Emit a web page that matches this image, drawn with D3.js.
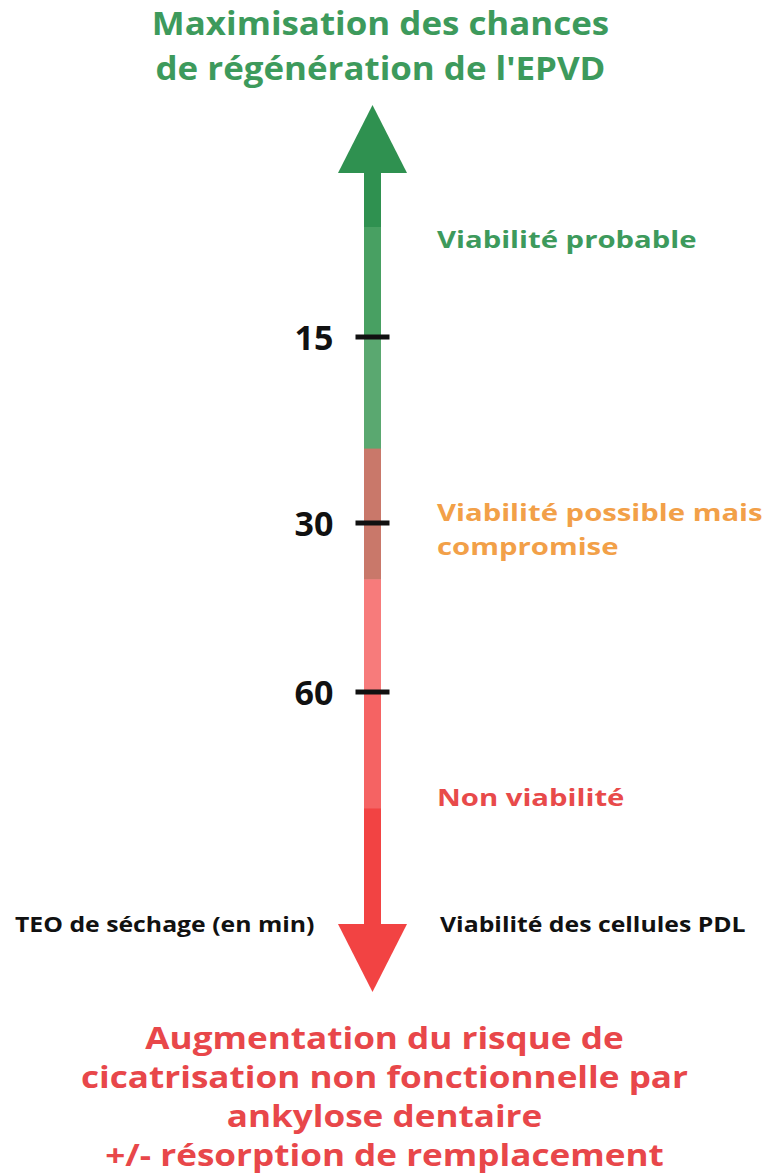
<!DOCTYPE html>
<html>
<head>
<meta charset="utf-8">
<script src="https://cdn.jsdelivr.net/npm/d3@7"></script>
<style>
  html, body { margin: 0; padding: 0; background: #fff; }
  svg { display: block; }
  text { font-family: "Open Sans", "DejaVu Sans", sans-serif; font-weight: 700; }
</style>
</head>
<body>
<div id="chart"></div>
<script>
// drying time ticks (minutes)
const tickValues = [15, 30, 60];
const tickLabels = ["15", "30", "60"];

// colour bands along the arrow, in minutes
const bandStops = [0, 5, 15, 24, 40, 60, 80, 100];
const bandColors = ["#2f9150", "#48a062", "#5aa870", "#c9786a", "#f77b7b", "#f56363", "#f24343"];

// viability zones on the right
const zoneLabels = [["Viabilité probable"], ["Viabilité possible mais", "compromise"], ["Non viabilité"]];
const zoneAnchors = [6, 31, 78];
const zoneColors = ["#3d9a5c", "#f2a048", "#e84a4a"];

const titleLines = ["Maximisation des chances", "de régénération de l'EPVD"];
const footerLines = ["Augmentation du risque de", "cicatrisation non fonctionnelle par", "ankylose dentaire", "+/- résorption de remplacement"];
const axisLeftName = "TEO de séchage (en min)";
const axisRightName = "Viabilité des cellules PDL";

const width = 769, height = 1175;
const cx = 372.5;          // arrow centre
const shaftW = 17;
const headW = 69, headL = 67;

// widen text a bit, the original uses a broader typeface
function stretch(sel, k) {
    sel.each(function () {
        const w = this.getComputedTextLength();
        d3.select(this).attr("textLength", w * k).attr("lengthAdjust", "spacingAndGlyphs");
    });
}

const svg = d3.select("#chart").append("svg")
    .attr("width", width)
    .attr("height", height);

// piecewise time scale, top of shaft = 0 min
const y = d3.scaleLinear()
    .domain([0, 15, 30, 60, 100])
    .range([172, 337, 523, 692, 925]);

// title
svg.append("g").selectAll("text")
    .data(titleLines)
    .enter().append("text")
    .attr("x", width / 2 - 4)
    .attr("y", (d, i) => 22 + i * 45)
    .attr("text-anchor", "middle")
    .attr("dominant-baseline", "central")
    .attr("fill", "#3d9a5c")
    .style("font-size", "32px")
    .text(d => d)
    .call(stretch, 1.09);

// shaft bands
const bands = d3.range(bandColors.length).map(i => ({ a: bandStops[i], b: bandStops[i + 1], c: bandColors[i] }));
svg.append("g").selectAll("rect")
    .data(bands)
    .enter().append("rect")
    .attr("x", cx - shaftW / 2)
    .attr("width", shaftW)
    .attr("y", d => y(d.a))
    .attr("height", d => y(d.b) - y(d.a) + 0.5)
    .attr("fill", d => d.c);

// arrow heads
const yTop = y(bandStops[0]), yBottom = y(bandStops[bandStops.length - 1]);
svg.append("path")
    .attr("d", `M${cx},${yTop - headL} L${cx + headW / 2},${yTop + 1} L${cx - headW / 2},${yTop + 1} Z`)
    .attr("fill", bandColors[0]);
svg.append("path")
    .attr("d", `M${cx},${yBottom + headL} L${cx + headW / 2},${yBottom - 1} L${cx - headW / 2},${yBottom - 1} Z`)
    .attr("fill", bandColors[bandColors.length - 1]);

// ticks + labels
const tg = svg.append("g").selectAll("g")
    .data(tickValues)
    .enter().append("g")
    .attr("transform", d => `translate(0,${y(d)})`);
tg.append("line")
    .attr("x1", cx - 17)
    .attr("x2", cx + 17)
    .attr("stroke", "#111")
    .attr("stroke-width", 5);
tg.append("text")
    .attr("x", cx - 39)
    .attr("text-anchor", "end")
    .attr("dominant-baseline", "central")
    .attr("fill", "#111")
    .style("font-size", "34px")
    .text((d, i) => tickLabels[i]);

// zone labels, one text per line
const zoneRows = [];
zoneLabels.forEach((lines, i) => lines.forEach((s, j) => zoneRows.push({ s, i, off: j - (lines.length - 1) / 2 })));
svg.append("g").selectAll("text")
    .data(zoneRows)
    .enter().append("text")
    .attr("x", 437)
    .attr("y", d => y(zoneAnchors[d.i]) + d.off * 34)
    .attr("dominant-baseline", "central")
    .attr("fill", d => zoneColors[d.i])
    .style("font-size", "24px")
    .text(d => d.s)
    .call(stretch, 1.22);

// axis names
svg.append("g").selectAll("text")
    .data([[axisLeftName, 15], [axisRightName, 440]])
    .enter().append("text")
    .attr("x", d => d[1])
    .attr("y", 924)
    .attr("dominant-baseline", "central")
    .attr("fill", "#111")
    .style("font-size", "21px")
    .text(d => d[0])
    .call(stretch, 1.18);

// footer
svg.append("g").selectAll("text")
    .data(footerLines)
    .enter().append("text")
    .attr("x", width / 2)
    .attr("y", (d, i) => 1037 + i * 39)
    .attr("text-anchor", "middle")
    .attr("dominant-baseline", "central")
    .attr("fill", "#e8474a")
    .style("font-size", "30px")
    .text(d => d)
    .call(stretch, 1.17);
</script>
</body>
</html>
